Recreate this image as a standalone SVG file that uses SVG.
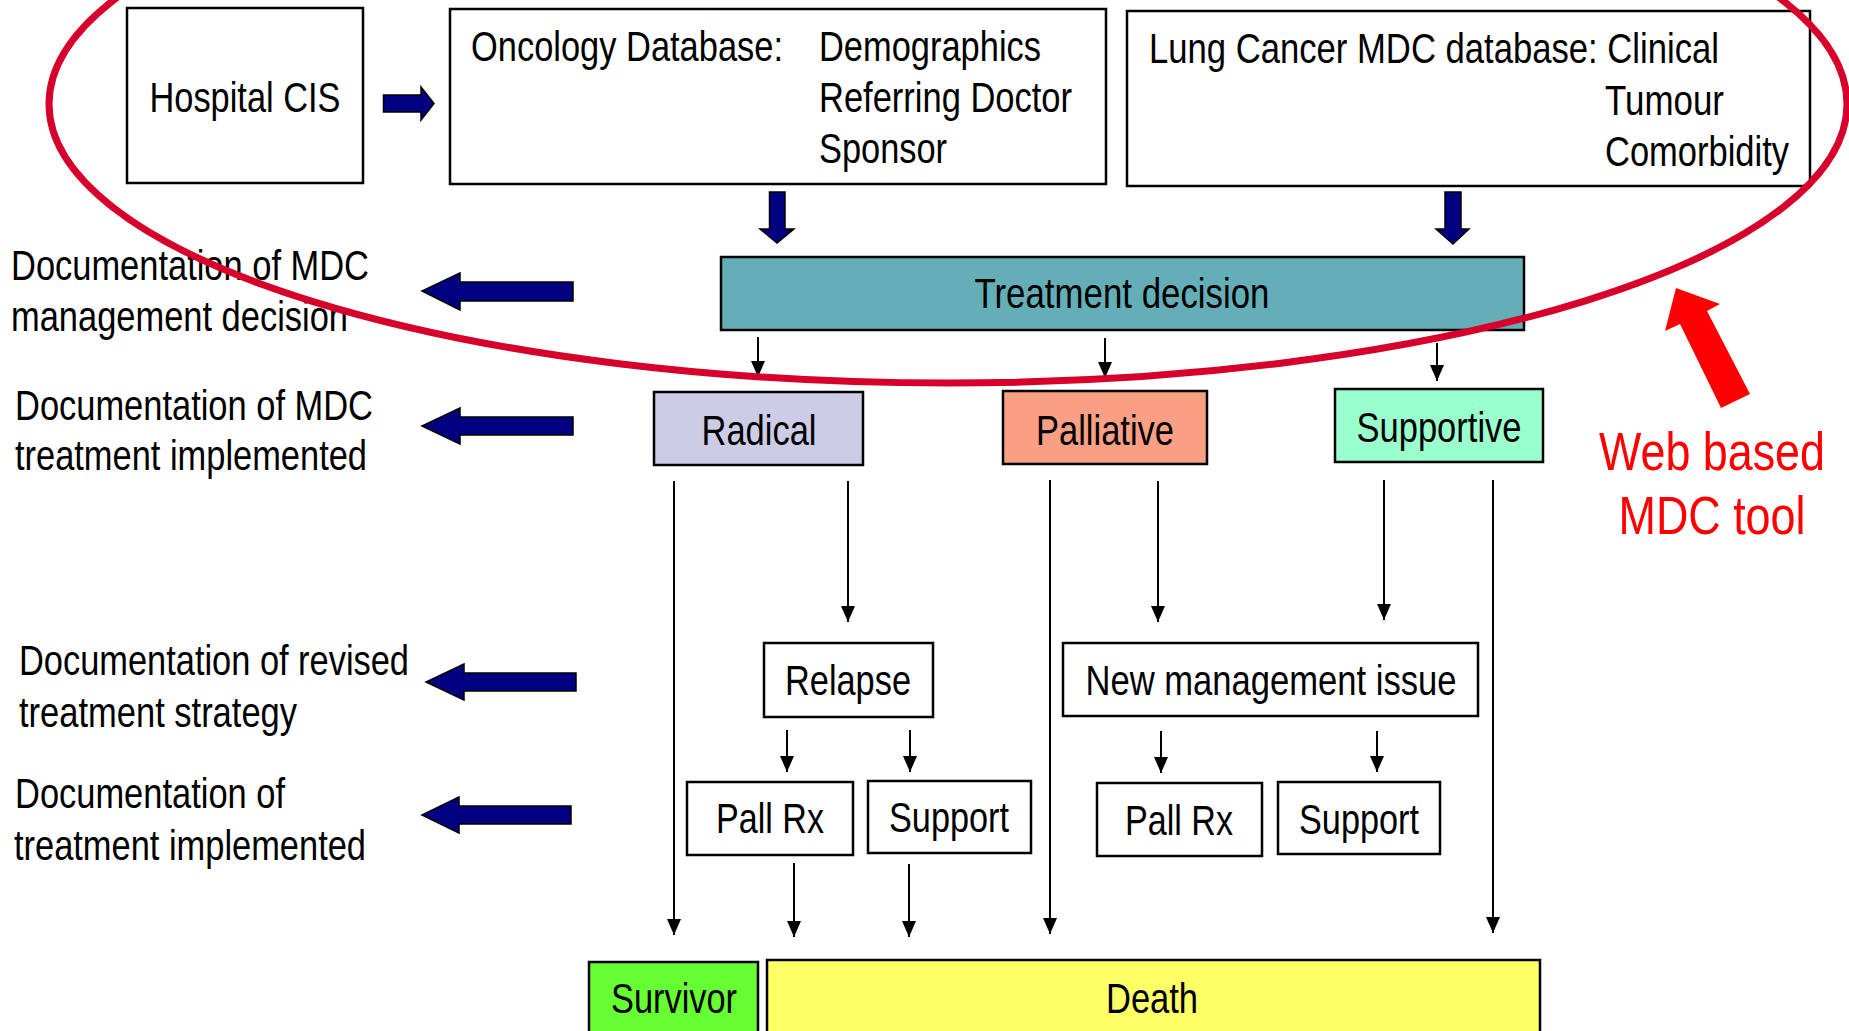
<svg xmlns="http://www.w3.org/2000/svg" width="1849" height="1031" viewBox="0 0 1849 1031">
<style>
text{font-family:"Liberation Sans",Arial,sans-serif;font-size:42px;fill:#000}
.box{stroke:#000;stroke-width:2.5}
.ln{stroke:#000;stroke-width:2;fill:none}
.blue{fill:#000080;stroke:#000;stroke-width:1.5}
.mid{text-anchor:middle}
.red{fill:#ff0000;font-size:54px}
</style>
<defs>
<marker id="ah" viewBox="0 0 16 14" refX="16" refY="7" markerWidth="16" markerHeight="14" markerUnits="userSpaceOnUse" orient="auto">
<path d="M0,0 L16,7 L0,14 z" fill="#000"/>
</marker>
</defs>
<rect width="1849" height="1031" fill="#fff"/>

<g id="hospital-cis">
<rect class="box" x="127" y="8" width="236" height="175" fill="#fff"/>
<text class="mid" x="245" y="112" textLength="191" lengthAdjust="spacingAndGlyphs">Hospital CIS</text>
</g>
<g id="oncology-db">
<rect class="box" x="450" y="9" width="656" height="175" fill="#fff"/>
<text x="471" y="61" textLength="312" lengthAdjust="spacingAndGlyphs">Oncology Database:</text>
<text x="819" y="61" textLength="222" lengthAdjust="spacingAndGlyphs">Demographics</text>
<text x="819" y="112" textLength="253" lengthAdjust="spacingAndGlyphs">Referring Doctor</text>
<text x="819" y="163" textLength="128" lengthAdjust="spacingAndGlyphs">Sponsor</text>
</g>
<g id="lung-db">
<rect class="box" x="1127" y="11" width="683" height="175" fill="#fff"/>
<text x="1149" y="63" textLength="570" lengthAdjust="spacingAndGlyphs">Lung Cancer MDC database: Clinical</text>
<text x="1605" y="115" textLength="119" lengthAdjust="spacingAndGlyphs">Tumour</text>
<text x="1605" y="166" textLength="184" lengthAdjust="spacingAndGlyphs">Comorbidity</text>
</g>
<g id="treatment-decision">
<rect class="box" x="721" y="257" width="803" height="73" fill="#63aeb7"/>
<text class="mid" x="1122" y="308" textLength="295" lengthAdjust="spacingAndGlyphs">Treatment decision</text>
</g>
<g id="radical">
<rect class="box" x="654" y="392" width="209" height="73" fill="#cccce6"/>
<text class="mid" x="759" y="445" textLength="115" lengthAdjust="spacingAndGlyphs">Radical</text>
</g>
<g id="palliative">
<rect class="box" x="1003" y="391" width="204" height="73" fill="#f99f83"/>
<text class="mid" x="1105" y="445" textLength="138" lengthAdjust="spacingAndGlyphs">Palliative</text>
</g>
<g id="supportive">
<rect class="box" x="1335" y="389" width="208" height="73" fill="#99ffcc"/>
<text class="mid" x="1439" y="442" textLength="165" lengthAdjust="spacingAndGlyphs">Supportive</text>
</g>
<g id="relapse">
<rect class="box" x="764" y="643" width="169" height="74" fill="#fff"/>
<text class="mid" x="848" y="695" textLength="126" lengthAdjust="spacingAndGlyphs">Relapse</text>
</g>
<g id="new-management-issue">
<rect class="box" x="1063" y="643" width="415" height="73" fill="#fff"/>
<text class="mid" x="1271" y="695" textLength="371" lengthAdjust="spacingAndGlyphs">New management issue</text>
</g>
<g id="pall-rx-1">
<rect class="box" x="687" y="782" width="166" height="73" fill="#fff"/>
<text class="mid" x="770" y="833" textLength="108" lengthAdjust="spacingAndGlyphs">Pall Rx</text>
</g>
<g id="support-1">
<rect class="box" x="868" y="781" width="163" height="72" fill="#fff"/>
<text class="mid" x="949" y="832" textLength="120" lengthAdjust="spacingAndGlyphs">Support</text>
</g>
<g id="pall-rx-2">
<rect class="box" x="1097" y="783" width="165" height="73" fill="#fff"/>
<text class="mid" x="1179" y="835" textLength="108" lengthAdjust="spacingAndGlyphs">Pall Rx</text>
</g>
<g id="support-2">
<rect class="box" x="1278" y="782" width="162" height="72" fill="#fff"/>
<text class="mid" x="1359" y="834" textLength="120" lengthAdjust="spacingAndGlyphs">Support</text>
</g>
<g id="survivor">
<rect class="box" x="589" y="962" width="169" height="80" fill="#66ff33"/>
<text class="mid" x="674" y="1013" textLength="126" lengthAdjust="spacingAndGlyphs">Survivor</text>
</g>
<g id="death">
<rect class="box" x="767" y="960" width="773" height="82" fill="#ffff66"/>
<text class="mid" x="1152" y="1013" textLength="92" lengthAdjust="spacingAndGlyphs">Death</text>
</g>

<g id="doc-labels">
<text x="11" y="280" textLength="358" lengthAdjust="spacingAndGlyphs">Documentation of MDC</text>
<text x="11" y="331" textLength="337" lengthAdjust="spacingAndGlyphs">management decision</text>
<text x="15" y="420" textLength="358" lengthAdjust="spacingAndGlyphs">Documentation of MDC</text>
<text x="15" y="470" textLength="352" lengthAdjust="spacingAndGlyphs">treatment implemented</text>
<text x="19" y="675" textLength="390" lengthAdjust="spacingAndGlyphs">Documentation of revised</text>
<text x="19" y="727" textLength="278" lengthAdjust="spacingAndGlyphs">treatment strategy</text>
<text x="15" y="808" textLength="270" lengthAdjust="spacingAndGlyphs">Documentation of</text>
<text x="14" y="860" textLength="352" lengthAdjust="spacingAndGlyphs">treatment implemented</text>
</g>

<g id="connectors">
<path class="blue" d="M383.5,95 H421 V87 L434,103.5 L421,120 V112 H383.5 z"/>
<path class="blue" d="M769.5,192 H785 V229 H794 L777,243 L760,229 H769.5 z"/>
<path class="blue" d="M1445,192 H1461 V229 H1469 L1453,244 L1436,229 H1445 z"/>
<path class="blue" d="M573,282 V301 H460 V310 L422,291 L460,273 V282 z"/>
<path class="blue" d="M573,417 V435 H460 V444 L422,426 L460,408 V417 z"/>
<path class="blue" d="M576,673 V691 H464 V700 L426,682 L464,664 V673 z"/>
<path class="blue" d="M571,806 V824 H459 V833 L422,815 L459,797 V806 z"/>
<line class="ln" x1="758" y1="337" x2="758" y2="377" marker-end="url(#ah)"/>
<line class="ln" x1="1105" y1="338" x2="1105" y2="378" marker-end="url(#ah)"/>
<line class="ln" x1="1437" y1="343" x2="1437" y2="381" marker-end="url(#ah)"/>
<line class="ln" x1="674" y1="481" x2="674" y2="935" marker-end="url(#ah)"/>
<line class="ln" x1="848" y1="481" x2="848" y2="622" marker-end="url(#ah)"/>
<line class="ln" x1="1050" y1="480" x2="1050" y2="934" marker-end="url(#ah)"/>
<line class="ln" x1="1158" y1="481" x2="1158" y2="622" marker-end="url(#ah)"/>
<line class="ln" x1="1384" y1="480" x2="1384" y2="620" marker-end="url(#ah)"/>
<line class="ln" x1="1493" y1="480" x2="1493" y2="933" marker-end="url(#ah)"/>
<line class="ln" x1="787" y1="730" x2="787" y2="772" marker-end="url(#ah)"/>
<line class="ln" x1="910" y1="730" x2="910" y2="772" marker-end="url(#ah)"/>
<line class="ln" x1="1161" y1="731" x2="1161" y2="773" marker-end="url(#ah)"/>
<line class="ln" x1="1377" y1="731" x2="1377" y2="772" marker-end="url(#ah)"/>
<line class="ln" x1="794" y1="863" x2="794" y2="937" marker-end="url(#ah)"/>
<line class="ln" x1="909" y1="864" x2="909" y2="937" marker-end="url(#ah)"/>
</g>

<g id="web-tool">
<ellipse cx="948" cy="104" rx="899" ry="279" fill="none" stroke="#d7002a" stroke-width="7"/>
<path d="M1676,288 L1720,304 L1707,311 L1750,394 L1721,408 L1680,324 L1665,331 z" fill="#ff0000"/>
<text class="red mid" x="1712" y="470" textLength="226" lengthAdjust="spacingAndGlyphs">Web based</text>
<text class="red mid" x="1712" y="534" textLength="187" lengthAdjust="spacingAndGlyphs">MDC tool</text>
</g>
</svg>
